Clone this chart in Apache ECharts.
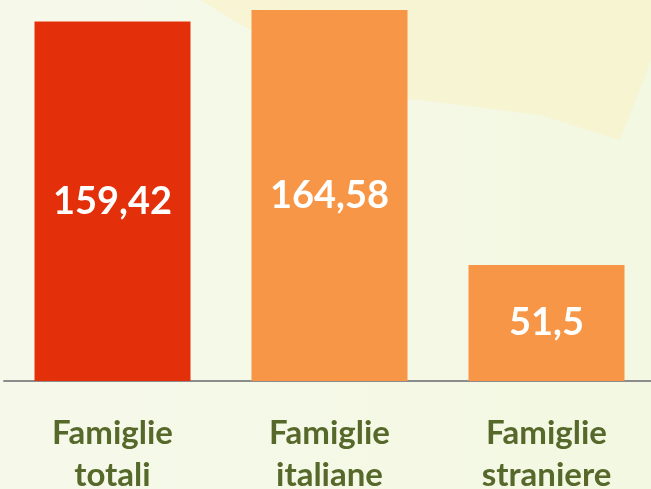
<!DOCTYPE html>
<html lang="it">
<head>
    <meta charset="UTF-8">
    <title>Famiglie</title>
    <script src="https://cdn.jsdelivr.net/npm/echarts@6/dist/echarts.min.js"></script>
    <style>
        * { margin: 0; padding: 0 }
        html, body { width: 100%; height: 100%; background: #f5f9e6; }
        #main { width: 651px; height: 489px; }
    </style>
</head>
<body>
<div id="main"></div>
<script type="text/javascript">
    // dati
    var categorie = ['Famiglie\ntotali', 'Famiglie\nitaliane', 'Famiglie\nstraniere'];
    var valori = [159.42, 164.58, 51.5];
    var colori = ['#e3300a', '#f79646', '#f79646'];

    var myChart = echarts.init(document.getElementById('main'));

    var dati = [];
    for (var i = 0; i < valori.length; i++) {
        dati.push({value: valori[i], itemStyle: {color: colori[i]}});
    }

    var option = {
        backgroundColor: {
            type: 'linear', x: 0, y: 0, x2: 1, y2: 0,
            colorStops: [
                {offset: 0, color: '#f6f9ea'},
                {offset: 1, color: '#f3f8e2'}
            ]
        },
        animation: false,
        graphic: [{
            // macchia gialla dello sfondo in alto a destra
            type: 'polygon',
            z: -10,
            shape: {points: [[200, 0], [651, 0], [651, 60], [620, 140], [540, 115], [420, 100], [330, 95], [250, 30]]},
            style: {fill: 'rgba(255, 236, 170, 0.3)'}
        }],
        grid: {left: 4, right: -4, top: 0, bottom: 108, outerBoundsMode: 'none', containLabel: false},
        xAxis: {
            type: 'category',
            data: categorie,
            axisLine: {lineStyle: {color: '#8c8c8c', width: 2}},
            axisTick: {show: false},
            axisLabel: {
                color: '#56692a',
                fontFamily: 'Lato',
                fontWeight: 'bold',
                fontSize: 33,
                lineHeight: 42,
                margin: 31
            }
        },
        yAxis: {
            type: 'value',
            min: 0,
            max: 169,
            show: false,
            splitLine: {show: false}
        },
        series: [{
            type: 'bar',
            barWidth: 156,
            data: dati,
            label: {
                show: true,
                position: 'inside',
                color: '#ffffff',
                fontFamily: 'Lato',
                fontWeight: 'bold',
                fontSize: 38,
                formatter: function (p) {
                    return String(p.value).replace('.', ',');
                }
            }
        }]
    };

    myChart.setOption(option);
</script>
</body>
</html>
